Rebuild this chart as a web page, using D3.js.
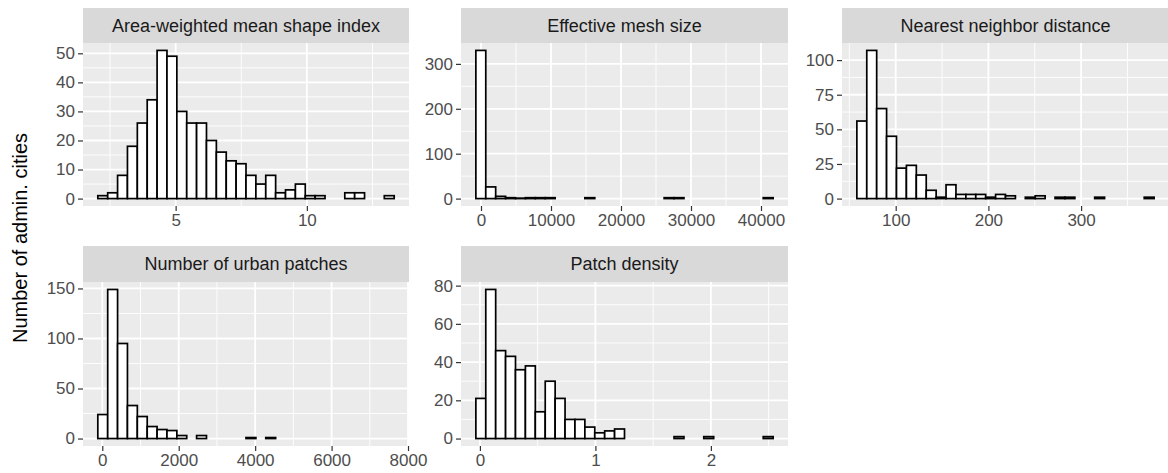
<!DOCTYPE html>
<html>
<head>
<meta charset="utf-8">
<script src="https://cdn.jsdelivr.net/npm/d3@7"></script>
<style>
body { margin: 0; background: #fff; }
text { font-family: "Liberation Sans", Arial, sans-serif; }
</style>
</head>
<body>
<script>
// facet titles
var titles = ["Area-weighted mean shape index", "Effective mesh size", "Nearest neighbor distance",
              "Number of urban patches", "Patch density"];

// histogram bins (30 per facet): left edge of first bin and bin width
var binStart = [2.035, -734, 58.1, -117, -0.035];
var binWidth = [0.3764, 1415.6, 10.69, 258.5, 0.0858];

// counts per bin
var shapeCounts = [1, 2, 8, 18, 26, 34, 51, 49, 30, 26, 26, 20, 16, 13, 12, 8, 5, 8, 2, 3, 5, 1, 1, 0, 0, 2, 2, 0, 0, 1];
var meshCounts = [330, 26, 5, 2, 1, 2, 2, 2, 0, 0, 0, 2, 0, 0, 0, 0, 0, 0, 0, 2, 2, 0, 0, 0, 0, 0, 0, 0, 0, 2];
var nndCounts = [56, 107, 65, 45, 22, 24, 17, 6, 1, 10, 3, 3, 3, 1, 3, 2, 0, 1, 2, 0, 1, 1, 0, 0, 1, 0, 0, 0, 0, 1];
var patchNumCounts = [24, 149, 95, 33, 22, 12, 9, 8, 3, 0, 3, 0, 0, 0, 0, 1, 0, 1, 0, 0, 0, 0, 0, 0, 0, 0, 0, 0, 0, 0];
var densityCounts = [21, 78, 46, 43, 36, 38, 14, 30, 21, 10, 10, 6, 3, 4, 5, 0, 0, 0, 0, 0, 1, 0, 0, 1, 0, 0, 0, 0, 0, 1];
var counts = [shapeCounts, meshCounts, nndCounts, patchNumCounts, densityCounts];

// tick labels
var xTicks = [[5, 10], [0, 10000, 20000, 30000, 40000], [100, 200, 300], [0, 2000, 4000, 6000, 8000], [0, 1, 2]];
var yTicks = [[0, 10, 20, 30, 40, 50], [0, 100, 200, 300], [0, 25, 50, 75, 100], [0, 50, 100, 150], [0, 20, 40, 60, 80]];

var yTitle = "Number of admin. cities";

window.onload = function(){
    var w = 1168, h = 473;

    var svg = d3.select("body").append("svg")
        .attr("width", w)
        .attr("height", h);

    // panel boxes (facet_wrap, 3 columns)
    var cols = [[83, 409], [461, 788], [842, 1169]];
    var rows = [{strip: 8, top: 43, bottom: 206}, {strip: 246, top: 282, bottom: 446}];

    titles.forEach(function(title, i){
        var c = cols[i % 3], r = rows[Math.floor(i / 3)];
        var data = counts[i].map(function(n, k){
            return {x0: binStart[i] + k * binWidth[i], x1: binStart[i] + (k + 1) * binWidth[i], n: n};
        });

        // ggplot-style 5% expansion
        var lo = data[0].x0, hi = data[data.length - 1].x1, span = hi - lo;
        var x = d3.scaleLinear().domain([lo - 0.05 * span, hi + 0.05 * span]).range([c[0], c[1]]);
        var maxN = d3.max(data, function(d){ return d.n; });
        var y = d3.scaleLinear().domain([-0.05 * maxN, 1.05 * maxN]).range([r.bottom, r.top]);

        var g = svg.append("g").attr("class", "panel");

        // strip
        g.append("rect")
            .attr("x", c[0]).attr("y", r.strip)
            .attr("width", c[1] - c[0]).attr("height", r.top - r.strip)
            .style("fill", "#d9d9d9");
        g.append("text")
            .attr("x", (c[0] + c[1]) / 2)
            .attr("y", (r.strip + r.top) / 2 + 6)
            .attr("text-anchor", "middle")
            .style("font-size", "18px")
            .style("fill", "#1a1a1a")
            .text(title);

        // panel background
        g.append("rect")
            .attr("x", c[0]).attr("y", r.top)
            .attr("width", c[1] - c[0]).attr("height", r.bottom - r.top)
            .style("fill", "#ebebeb");

        // minor grid = midpoints between major breaks
        function minors(t, dom){
            var step = t[1] - t[0], out = [];
            for (var v = t[0] - step / 2; v <= t[t.length - 1] + step; v += step){
                if (v >= dom[0] && v <= dom[1]) out.push(v);
            }
            return out;
        }
        var xd = x.domain(), yd = y.domain();

        g.selectAll(".xminor").data(minors(xTicks[i], xd)).enter().append("line")
            .attr("x1", x).attr("x2", x).attr("y1", r.top).attr("y2", r.bottom)
            .style("stroke", "#fff").style("stroke-width", 0.9);
        g.selectAll(".yminor").data(minors(yTicks[i], yd)).enter().append("line")
            .attr("x1", c[0]).attr("x2", c[1]).attr("y1", y).attr("y2", y)
            .style("stroke", "#fff").style("stroke-width", 0.9);
        g.selectAll(".xmajor").data(xTicks[i]).enter().append("line")
            .attr("x1", x).attr("x2", x).attr("y1", r.top).attr("y2", r.bottom)
            .style("stroke", "#fff").style("stroke-width", 1.8);
        g.selectAll(".ymajor").data(yTicks[i]).enter().append("line")
            .attr("x1", c[0]).attr("x2", c[1]).attr("y1", y).attr("y2", y)
            .style("stroke", "#fff").style("stroke-width", 1.8);

        // histogram bars
        g.selectAll(".bar").data(data).enter().append("rect")
            .attr("class", "bar")
            .attr("x", function(d){ return x(d.x0); })
            .attr("width", function(d){ return x(d.x1) - x(d.x0); })
            .attr("y", function(d){ return y(d.n); })
            .attr("height", function(d){ return y(0) - y(d.n); })
            .style("fill", "#fff")
            .style("stroke", "#000")
            .style("stroke-width", 1.7);

        // axes
        var xAxis = g.append("g")
            .attr("transform", "translate(0," + r.bottom + ")")
            .call(d3.axisBottom(x).tickValues(xTicks[i]).tickSize(5).tickPadding(3).tickFormat(d3.format("d")));
        var yAxis = g.append("g")
            .attr("transform", "translate(" + c[0] + ",0)")
            .call(d3.axisLeft(y).tickValues(yTicks[i]).tickSize(5).tickPadding(3).tickFormat(d3.format("d")));

        [xAxis, yAxis].forEach(function(a){
            a.select(".domain").remove();
            a.selectAll(".tick line").style("stroke", "#333").style("stroke-width", 1.2);
            a.selectAll(".tick text")
                .style("font-size", "17px")
                .style("fill", "#4d4d4d")
                .style("font-family", "Liberation Sans, Arial, sans-serif");
        });
    });

    // shared y axis title
    svg.append("text")
        .attr("transform", "translate(27,238) rotate(-90)")
        .attr("text-anchor", "middle")
        .style("font-size", "20px")
        .style("fill", "#000")
        .text(yTitle);
};
</script>
</body>
</html>
